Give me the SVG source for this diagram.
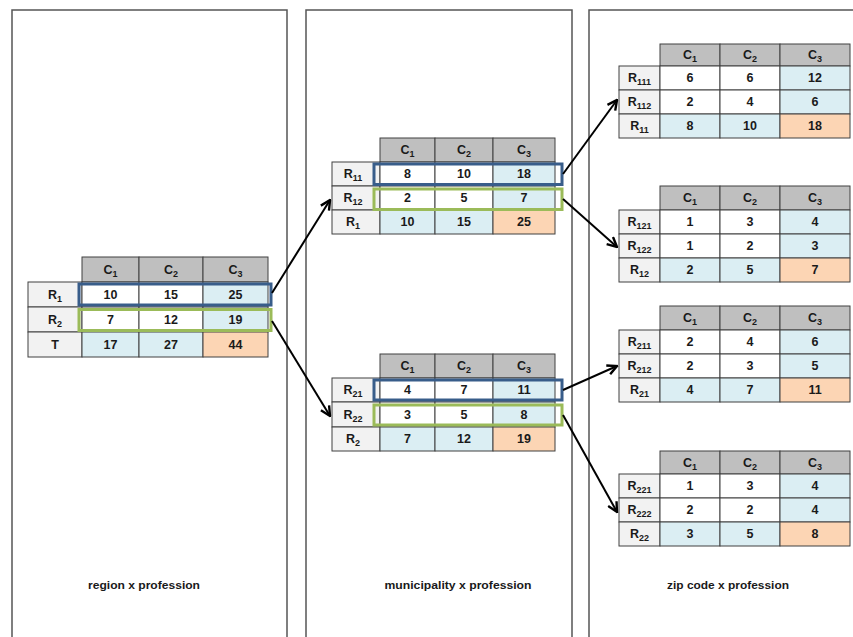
<svg xmlns="http://www.w3.org/2000/svg" width="853" height="637" viewBox="0 0 853 637">
<defs>
<style>
.panel{fill:none;stroke:#555;stroke-width:1.5}
.hd{fill:#bfbfbf;stroke:#404040;stroke-width:1}
.rh{fill:#f2f2f2;stroke:#404040;stroke-width:1}
.w{fill:#fff;stroke:#404040;stroke-width:1}
.b{fill:#dbeef3;stroke:#404040;stroke-width:1}
.o{fill:#fcd5b4;stroke:#404040;stroke-width:1}
.blue{fill:none;stroke:#385d8a;stroke-width:3}
.green{fill:none;stroke:#9bbb59;stroke-width:3}
text{font-family:"Liberation Sans",Arial,sans-serif;font-size:12.5px;font-weight:bold;text-anchor:middle;fill:#1a1a1a}
.s{font-size:9px}
.lbl{font-size:11.5px}
.arr{fill:none;stroke:#000;stroke-width:2;marker-end:url(#ah)}
</style>
<marker id="ah" viewBox="0 0 10 10" refX="9" refY="5" markerWidth="6" markerHeight="6" markerUnits="strokeWidth" orient="auto">
<path d="M1,1 L9,5 L1,9" fill="none" stroke="#000" stroke-width="2"/>
</marker>
</defs>
<rect width="853" height="637" fill="#fff"/>
<g id="panels">
<path class="panel" d="M12,640 V10 H287 V640"/>
<path class="panel" d="M306,640 V10 H572 V640"/>
<path class="panel" d="M589,640 V10 H860"/>
</g>

<g id="t-region">
<rect class="hd" x="82" y="257" width="57" height="25"/>
<rect class="hd" x="139" y="257" width="64" height="25"/>
<rect class="hd" x="203" y="257" width="65" height="25"/>
<text x="110.5" y="274">C<tspan class="s" dy="3">1</tspan></text>
<text x="171" y="274">C<tspan class="s" dy="3">2</tspan></text>
<text x="235.5" y="274">C<tspan class="s" dy="3">3</tspan></text>
<rect class="rh" x="28" y="282" width="54" height="25"/>
<rect class="w" x="82" y="282" width="57" height="25"/>
<rect class="w" x="139" y="282" width="64" height="25"/>
<rect class="b" x="203" y="282" width="65" height="25"/>
<text x="55" y="299">R<tspan class="s" dy="3">1</tspan></text>
<text x="110.5" y="299">10</text><text x="171" y="299">15</text><text x="235.5" y="299">25</text>
<rect class="rh" x="28" y="307" width="54" height="25"/>
<rect class="w" x="82" y="307" width="57" height="25"/>
<rect class="w" x="139" y="307" width="64" height="25"/>
<rect class="b" x="203" y="307" width="65" height="25"/>
<text x="55" y="324">R<tspan class="s" dy="3">2</tspan></text>
<text x="110.5" y="324">7</text><text x="171" y="324">12</text><text x="235.5" y="324">19</text>
<rect class="rh" x="28" y="332" width="54" height="25"/>
<rect class="b" x="82" y="332" width="57" height="25"/>
<rect class="b" x="139" y="332" width="64" height="25"/>
<rect class="o" x="203" y="332" width="65" height="25"/>
<text x="55" y="349">T</text>
<text x="110.5" y="349">17</text><text x="171" y="349">27</text><text x="235.5" y="349">44</text>
<rect class="blue" x="79" y="284" width="192" height="21"/>
<rect class="green" x="79" y="309.5" width="192" height="21"/>
<text class="lbl" x="144" y="589" textLength="112" lengthAdjust="spacingAndGlyphs">region x profession</text>
</g>

<g id="t-muni-1">
<rect class="hd" x="380" y="138" width="55" height="24"/>
<rect class="hd" x="435" y="138" width="58" height="24"/>
<rect class="hd" x="493" y="138" width="62" height="24"/>
<text x="407.5" y="154">C<tspan class="s" dy="3">1</tspan></text>
<text x="464" y="154">C<tspan class="s" dy="3">2</tspan></text>
<text x="524" y="154">C<tspan class="s" dy="3">3</tspan></text>
<rect class="rh" x="332" y="162" width="48" height="24"/>
<rect class="w" x="380" y="162" width="55" height="24"/>
<rect class="w" x="435" y="162" width="58" height="24"/>
<rect class="b" x="493" y="162" width="62" height="24"/>
<text x="353" y="178">R<tspan class="s" dy="3">11</tspan></text>
<text x="407.5" y="178">8</text><text x="464" y="178">10</text><text x="524" y="178">18</text>
<rect class="rh" x="332" y="186" width="48" height="24"/>
<rect class="w" x="380" y="186" width="55" height="24"/>
<rect class="w" x="435" y="186" width="58" height="24"/>
<rect class="b" x="493" y="186" width="62" height="24"/>
<text x="353" y="202">R<tspan class="s" dy="3">12</tspan></text>
<text x="407.5" y="202">2</text><text x="464" y="202">5</text><text x="524" y="202">7</text>
<rect class="rh" x="332" y="210" width="48" height="24"/>
<rect class="b" x="380" y="210" width="55" height="24"/>
<rect class="b" x="435" y="210" width="58" height="24"/>
<rect class="o" x="493" y="210" width="62" height="24"/>
<text x="353" y="226">R<tspan class="s" dy="3">1</tspan></text>
<text x="407.5" y="226">10</text><text x="464" y="226">15</text><text x="524" y="226">25</text>
<rect class="blue" x="374" y="164" width="188" height="20.5"/>
<rect class="green" x="374" y="189" width="188" height="20.5"/>
</g>

<g id="t-muni-2">
<rect class="hd" x="380" y="354" width="55" height="24"/>
<rect class="hd" x="435" y="354" width="58" height="24"/>
<rect class="hd" x="493" y="354" width="62" height="24"/>
<text x="407.5" y="370">C<tspan class="s" dy="3">1</tspan></text>
<text x="464" y="370">C<tspan class="s" dy="3">2</tspan></text>
<text x="524" y="370">C<tspan class="s" dy="3">3</tspan></text>
<rect class="rh" x="332" y="378" width="48" height="24"/>
<rect class="w" x="380" y="378" width="55" height="24"/>
<rect class="w" x="435" y="378" width="58" height="24"/>
<rect class="b" x="493" y="378" width="62" height="24"/>
<text x="353" y="394">R<tspan class="s" dy="3">21</tspan></text>
<text x="407.5" y="394">4</text><text x="464" y="394">7</text><text x="524" y="394">11</text>
<rect class="rh" x="332" y="402" width="48" height="25"/>
<rect class="w" x="380" y="402" width="55" height="25"/>
<rect class="w" x="435" y="402" width="58" height="25"/>
<rect class="b" x="493" y="402" width="62" height="25"/>
<text x="353" y="418.5">R<tspan class="s" dy="3">22</tspan></text>
<text x="407.5" y="418.5">3</text><text x="464" y="418.5">5</text><text x="524" y="418.5">8</text>
<rect class="rh" x="332" y="427" width="48" height="24"/>
<rect class="b" x="380" y="427" width="55" height="24"/>
<rect class="b" x="435" y="427" width="58" height="24"/>
<rect class="o" x="493" y="427" width="62" height="24"/>
<text x="353" y="443">R<tspan class="s" dy="3">2</tspan></text>
<text x="407.5" y="443">7</text><text x="464" y="443">12</text><text x="524" y="443">19</text>
<rect class="blue" x="374" y="380" width="188" height="20"/>
<rect class="green" x="374" y="405" width="188" height="20"/>
<text class="lbl" x="458" y="589" textLength="147" lengthAdjust="spacingAndGlyphs">municipality x profession</text>
</g>

<g id="t-zip-1">
<rect class="hd" x="660" y="44" width="60" height="22"/>
<rect class="hd" x="720" y="44" width="60" height="22"/>
<rect class="hd" x="780" y="44" width="70" height="22"/>
<text x="690" y="59">C<tspan class="s" dy="3">1</tspan></text>
<text x="750" y="59">C<tspan class="s" dy="3">2</tspan></text>
<text x="815" y="59">C<tspan class="s" dy="3">3</tspan></text>
<rect class="rh" x="619" y="66" width="41" height="24"/>
<rect class="w" x="660" y="66" width="60" height="24"/>
<rect class="w" x="720" y="66" width="60" height="24"/>
<rect class="b" x="780" y="66" width="70" height="24"/>
<text x="639.5" y="82">R<tspan class="s" dy="3">111</tspan></text>
<text x="690" y="82">6</text><text x="750" y="82">6</text><text x="815" y="82">12</text>
<rect class="rh" x="619" y="90" width="41" height="24"/>
<rect class="w" x="660" y="90" width="60" height="24"/>
<rect class="w" x="720" y="90" width="60" height="24"/>
<rect class="b" x="780" y="90" width="70" height="24"/>
<text x="639.5" y="106">R<tspan class="s" dy="3">112</tspan></text>
<text x="690" y="106">2</text><text x="750" y="106">4</text><text x="815" y="106">6</text>
<rect class="rh" x="619" y="114" width="41" height="24"/>
<rect class="b" x="660" y="114" width="60" height="24"/>
<rect class="b" x="720" y="114" width="60" height="24"/>
<rect class="o" x="780" y="114" width="70" height="24"/>
<text x="639.5" y="130">R<tspan class="s" dy="3">11</tspan></text>
<text x="690" y="130">8</text><text x="750" y="130">10</text><text x="815" y="130">18</text>
</g>

<g id="t-zip-2">
<rect class="hd" x="660" y="186" width="60" height="24"/>
<rect class="hd" x="720" y="186" width="60" height="24"/>
<rect class="hd" x="780" y="186" width="70" height="24"/>
<text x="690" y="202">C<tspan class="s" dy="3">1</tspan></text>
<text x="750" y="202">C<tspan class="s" dy="3">2</tspan></text>
<text x="815" y="202">C<tspan class="s" dy="3">3</tspan></text>
<rect class="rh" x="619" y="210" width="41" height="24"/>
<rect class="w" x="660" y="210" width="60" height="24"/>
<rect class="w" x="720" y="210" width="60" height="24"/>
<rect class="b" x="780" y="210" width="70" height="24"/>
<text x="639.5" y="226">R<tspan class="s" dy="3">121</tspan></text>
<text x="690" y="226">1</text><text x="750" y="226">3</text><text x="815" y="226">4</text>
<rect class="rh" x="619" y="234" width="41" height="24"/>
<rect class="w" x="660" y="234" width="60" height="24"/>
<rect class="w" x="720" y="234" width="60" height="24"/>
<rect class="b" x="780" y="234" width="70" height="24"/>
<text x="639.5" y="250">R<tspan class="s" dy="3">122</tspan></text>
<text x="690" y="250">1</text><text x="750" y="250">2</text><text x="815" y="250">3</text>
<rect class="rh" x="619" y="258" width="41" height="24"/>
<rect class="b" x="660" y="258" width="60" height="24"/>
<rect class="b" x="720" y="258" width="60" height="24"/>
<rect class="o" x="780" y="258" width="70" height="24"/>
<text x="639.5" y="274">R<tspan class="s" dy="3">12</tspan></text>
<text x="690" y="274">2</text><text x="750" y="274">5</text><text x="815" y="274">7</text>
</g>

<g id="t-zip-3">
<rect class="hd" x="660" y="306" width="60" height="24"/>
<rect class="hd" x="720" y="306" width="60" height="24"/>
<rect class="hd" x="780" y="306" width="70" height="24"/>
<text x="690" y="322">C<tspan class="s" dy="3">1</tspan></text>
<text x="750" y="322">C<tspan class="s" dy="3">2</tspan></text>
<text x="815" y="322">C<tspan class="s" dy="3">3</tspan></text>
<rect class="rh" x="619" y="330" width="41" height="24"/>
<rect class="w" x="660" y="330" width="60" height="24"/>
<rect class="w" x="720" y="330" width="60" height="24"/>
<rect class="b" x="780" y="330" width="70" height="24"/>
<text x="639.5" y="346">R<tspan class="s" dy="3">211</tspan></text>
<text x="690" y="346">2</text><text x="750" y="346">4</text><text x="815" y="346">6</text>
<rect class="rh" x="619" y="354" width="41" height="24"/>
<rect class="w" x="660" y="354" width="60" height="24"/>
<rect class="w" x="720" y="354" width="60" height="24"/>
<rect class="b" x="780" y="354" width="70" height="24"/>
<text x="639.5" y="370">R<tspan class="s" dy="3">212</tspan></text>
<text x="690" y="370">2</text><text x="750" y="370">3</text><text x="815" y="370">5</text>
<rect class="rh" x="619" y="378" width="41" height="24"/>
<rect class="b" x="660" y="378" width="60" height="24"/>
<rect class="b" x="720" y="378" width="60" height="24"/>
<rect class="o" x="780" y="378" width="70" height="24"/>
<text x="639.5" y="394">R<tspan class="s" dy="3">21</tspan></text>
<text x="690" y="394">4</text><text x="750" y="394">7</text><text x="815" y="394">11</text>
</g>

<g id="t-zip-4">
<rect class="hd" x="660" y="451" width="60" height="23"/>
<rect class="hd" x="720" y="451" width="60" height="23"/>
<rect class="hd" x="780" y="451" width="70" height="23"/>
<text x="690" y="466.5">C<tspan class="s" dy="3">1</tspan></text>
<text x="750" y="466.5">C<tspan class="s" dy="3">2</tspan></text>
<text x="815" y="466.5">C<tspan class="s" dy="3">3</tspan></text>
<rect class="rh" x="619" y="474" width="41" height="24"/>
<rect class="w" x="660" y="474" width="60" height="24"/>
<rect class="w" x="720" y="474" width="60" height="24"/>
<rect class="b" x="780" y="474" width="70" height="24"/>
<text x="639.5" y="490">R<tspan class="s" dy="3">221</tspan></text>
<text x="690" y="490">1</text><text x="750" y="490">3</text><text x="815" y="490">4</text>
<rect class="rh" x="619" y="498" width="41" height="24"/>
<rect class="w" x="660" y="498" width="60" height="24"/>
<rect class="w" x="720" y="498" width="60" height="24"/>
<rect class="b" x="780" y="498" width="70" height="24"/>
<text x="639.5" y="514">R<tspan class="s" dy="3">222</tspan></text>
<text x="690" y="514">2</text><text x="750" y="514">2</text><text x="815" y="514">4</text>
<rect class="rh" x="619" y="522" width="41" height="24"/>
<rect class="b" x="660" y="522" width="60" height="24"/>
<rect class="b" x="720" y="522" width="60" height="24"/>
<rect class="o" x="780" y="522" width="70" height="24"/>
<text x="639.5" y="538">R<tspan class="s" dy="3">22</tspan></text>
<text x="690" y="538">3</text><text x="750" y="538">5</text><text x="815" y="538">8</text>
<text class="lbl" x="728" y="589" textLength="122" lengthAdjust="spacingAndGlyphs">zip code x profession</text>
</g>

<g id="connectors">
<path class="arr" d="M272,293 L330,200"/>
<path class="arr" d="M272,321 L330,416"/>
<path class="arr" d="M563,174 L617,100"/>
<path class="arr" d="M563,199 L617,247"/>
<path class="arr" d="M563,390 L617,366"/>
<path class="arr" d="M563,415 L617,512"/>
</g>
</svg>
